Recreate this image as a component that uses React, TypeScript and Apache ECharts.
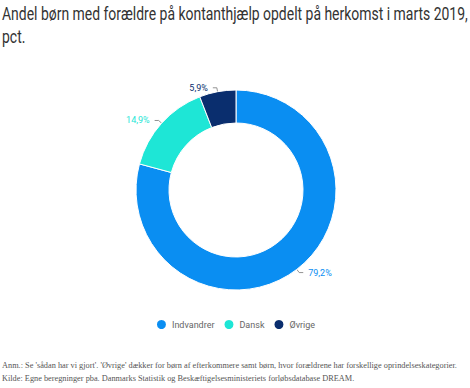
import React, { useEffect, useRef } from "react";
import * as echarts from "echarts";

const categories = ["Indvandrer", "Dansk", "Øvrige"];
const values = [79.2, 14.9, 5.9];
const colors = ["#0a8ef2", "#1ee6d6", "#0a2e6e"];
const titleLines = [
  "Andel børn med forældre på kontanthjælp opdelt på herkomst i marts 2019,",
  "pct.",
];
const noteLines = [
  "Anm.: Se 'sådan har vi gjort'. 'Øvrige' dækker for børn af efterkommere samt børn, hvor forældrene har forskellige oprindelseskategorier.",
  "Kilde: Egne beregninger pba. Danmarks Statistik og Beskæftigelsesministeriets forløbsdatabase DREAM.",
];

export default function App() {
  const ref = useRef<HTMLDivElement>(null);
  useEffect(() => {
    const chart = echarts.init(ref.current!, null, { renderer: "svg" });
    chart.setOption({
      animation: false,
      backgroundColor: "#ffffff",
      legend: {
        data: categories,
        bottom: 52,
        left: "center",
        icon: "circle",
        itemWidth: 11,
        itemHeight: 11,
        itemGap: 8,
        textStyle: { fontSize: 9, color: "#666666", fontFamily: "Roboto, sans-serif" },
      },
      series: [
        {
          type: "pie",
          center: [236, 190],
          radius: [67, 100],
          startAngle: 90,
          clockwise: true,
          data: categories.map((c, i) => ({
            name: c,
            value: values[i],
            itemStyle: { color: colors[i] },
            label: { color: colors[i] },
          })),
          label: {
            show: true,
            formatter: (p: any) => p.value.toFixed(1).replace(".", ",") + "%",
            fontSize: 9,
            fontFamily: "Roboto, sans-serif",
          },
          labelLine: {
            show: true,
            length: 4,
            length2: 4,
            lineStyle: { color: "#777777", width: 0.8 },
          },
          itemStyle: { borderColor: "#ffffff", borderWidth: 1 },
        },
      ],
      graphic: [
        ...titleLines.map((t, i) => ({
          type: "text",
          x: 2,
          y: 4 + i * 23,
          scaleX: 0.735,
          style: {
            text: t,
            fontFamily: "Roboto, sans-serif",
            fontSize: 19,
            fill: "#333333",
          },
        })),
        ...noteLines.map((t, i) => ({
          type: "text",
          left: 2,
          top: 361 + i * 13,
          style: {
            text: t,
            fontFamily: "'Liberation Serif', 'DejaVu Serif', serif",
            fontSize: 8.3,
            fill: "#555555",
          },
        })),
      ],
    });
    return () => chart.dispose();
  }, []);
  return <div ref={ref} style={{ width: 470, height: 388, position: "absolute", left: 0, top: 0 }} />;
}
